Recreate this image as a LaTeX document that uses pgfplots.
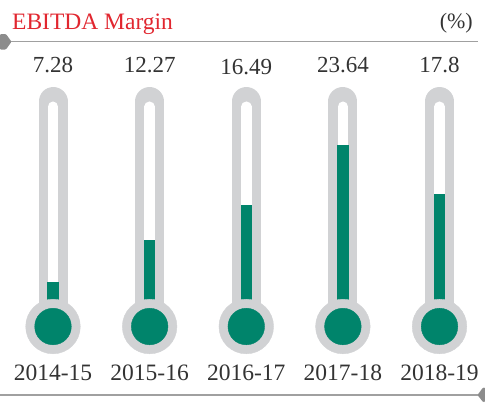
\documentclass[border=0pt]{standalone}
\usepackage{pgfplots}
\pgfplotsset{compat=1.18}
\usepackage{fontspec}
\setmainfont{Liberation Serif}
\definecolor{tube}{HTML}{D1D2D4}
\definecolor{thermgreen}{HTML}{00846B}
\definecolor{titlered}{HTML}{E1262F}
\definecolor{rulegray}{HTML}{A0A0A0}
\definecolor{markgray}{HTML}{8C8C8C}
\definecolor{txt}{HTML}{333333}
\begin{document}
\begin{tikzpicture}[x=1bp,y=1bp]
\begin{axis}[at={(0,0)}, anchor=south west, scale only axis,
  width=485bp, height=402bp,
  xmin=-0.5485, xmax=4.4709, ymin=-7.049, ymax=40.98,
  hide axis, clip=false, unbounded coords=jump]
% gray tubes
\addplot[color=tube, line width=29bp, line cap=round] coordinates {
 (0,1.97) (0,28.85) (0,nan) (1,1.97) (1,28.85) (1,nan) (2,1.97) (2,28.85) (2,nan)
 (3,1.97) (3,28.85) (3,nan) (4,1.97) (4,28.85)};
% gray bulbs
\addplot[color=tube, only marks, mark=*, mark size=27.3bp, mark options={draw=tube, fill=tube}] coordinates {
 (0,1.97) (1,1.97) (2,1.97) (3,1.97) (4,1.97)};
% white inner
\addplot[color=white, line width=10.5bp, line cap=round] coordinates {
 (0,1.97) (0,28.23) (0,nan) (1,1.97) (1,28.23) (1,nan) (2,1.97) (2,28.23) (2,nan)
 (3,1.97) (3,28.23) (3,nan) (4,1.97) (4,28.23)};
% green bulbs
\addplot[color=thermgreen, only marks, mark=*, mark size=18.3bp, mark options={draw=thermgreen, fill=thermgreen}] coordinates {
 (0,1.97) (1,1.97) (2,1.97) (3,1.97) (4,1.97)};
% green columns (values)
\addplot[color=thermgreen, line width=11.5bp] coordinates {
 (0,1.97) (0,7.28) (0,nan) (1,1.97) (1,12.27) (1,nan) (2,1.97) (2,16.49) (2,nan)
 (3,1.97) (3,23.64) (3,nan) (4,1.97) (4,17.8)};
% value labels
\addplot[draw=none, mark=none, nodes near coords, point meta=explicit symbolic,
  every node near coord/.append style={anchor=base, inner sep=0pt, text=txt,
  font=\fontsize{23bp}{27bp}\selectfont}] coordinates {
 (0,32.34)[7.28] (1,32.34)[12.27] (2,32.02)[16.49] (3,32.34)[23.64] (4,32.34)[17.8]};
% year labels
\addplot[draw=none, mark=none, nodes near coords, point meta=explicit symbolic,
  every node near coord/.append style={anchor=base, inner sep=0pt, text=txt,
  font=\fontsize{23.5bp}{27bp}\selectfont}] coordinates {
 (0,-4.42)[2014-15] (1,-4.42)[2015-16] (2,-4.42)[2016-17] (3,-4.42)[2017-18] (4,-4.42)[2018-19]};
\end{axis}
% frame rules and markers
\draw[rulegray, line width=1.3bp] (5,360.3) -- (478,360.3);
\draw[rulegray, line width=1.3bp] (0,7) -- (480,7);
\fill[markgray, rounded corners=1bp] (0,368) -- (6,368) -- (11.5,360.3) -- (6,352.5) -- (0,352.5) -- cycle;
\fill[markgray, rounded corners=1bp] (485,14.5) -- (483,14.5) -- (477.5,7) -- (483,0) -- (485,0) -- cycle;
% title
\node[anchor=base west, inner sep=0pt, text=titlered, font=\fontsize{23.5bp}{28bp}\selectfont] at (12,372.5) {EBITDA Margin};
\node[anchor=base east, inner sep=0pt, text=txt, font=\fontsize{22bp}{26bp}\selectfont] at (473,374) {(\%)};
\pgfresetboundingbox
\useasboundingbox (0,0) rectangle (485,402);
\end{tikzpicture}
\end{document}
